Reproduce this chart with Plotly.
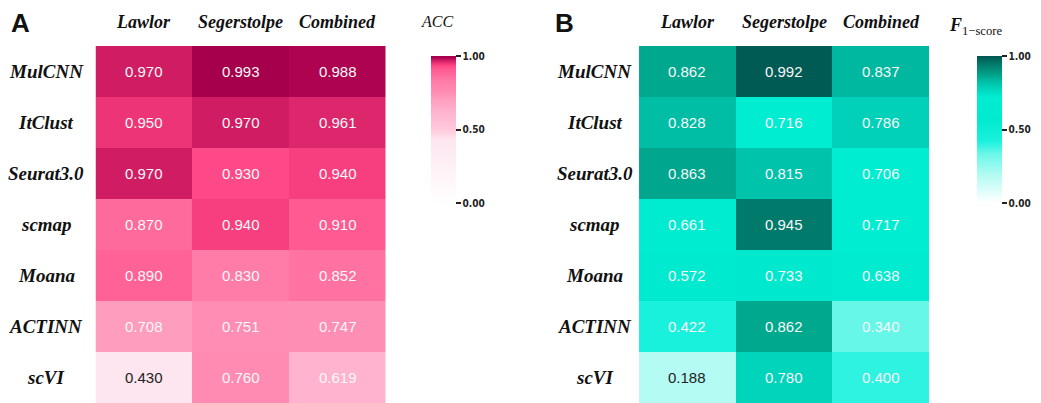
import plotly.graph_objects as go

W, H = 1041, 403

methods = ["MulCNN", "ItClust", "Seurat3.0", "scmap", "Moana", "ACTINN", "scVI"]
datasets = ["Lawlor", "Segerstolpe", "Combined"]

acc = [
    [0.970, 0.993, 0.988],
    [0.950, 0.970, 0.961],
    [0.970, 0.930, 0.940],
    [0.870, 0.940, 0.910],
    [0.890, 0.830, 0.852],
    [0.708, 0.751, 0.747],
    [0.430, 0.760, 0.619],
]

f1 = [
    [0.862, 0.992, 0.837],
    [0.828, 0.716, 0.786],
    [0.863, 0.815, 0.706],
    [0.661, 0.945, 0.717],
    [0.572, 0.733, 0.638],
    [0.422, 0.862, 0.340],
    [0.188, 0.780, 0.400],
]

colorbar_ticks = [0.0, 0.5, 1.0]

pink_scale = [
    [0.00, "#ffffff"],
    [0.43, "#fde6ef"],
    [0.50, "#ffc8db"],
    [0.62, "#ffb3ce"],
    [0.71, "#ff9dbf"],
    [0.75, "#ff8db4"],
    [0.83, "#ff7ba8"],
    [0.87, "#ff6a9c"],
    [0.91, "#ff5a91"],
    [0.935, "#fd4584"],
    [0.95, "#ec3476"],
    [0.97, "#d01c63"],
    [0.99, "#a9004e"],
    [1.00, "#a0004a"],
]

teal_scale = [
    [0.00, "#ffffff"],
    [0.19, "#b3fbf3"],
    [0.34, "#66f7e8"],
    [0.42, "#1af1dd"],
    [0.57, "#00eacf"],
    [0.72, "#00edd2"],
    [0.78, "#00d4bb"],
    [0.83, "#00bca4"],
    [0.86, "#00a98f"],
    [0.945, "#007a6a"],
    [1.00, "#005650"],
]

# dark cell text only below these values (per panel)
dark_text_below = {"acc": 0.5, "f1": 0.3}

# layout in pixels
top = 46
xA0, xA1 = 97, 392
xB0, xB1 = 649, 944
ytop = 1 - top / H


def px(x):
    return x / W


def py(y):
    return 1 - y / H


fig = go.Figure()

def add_panel(z, scale, xaxis, yaxis, cbx):
    fig.add_trace(go.Heatmap(
        z=z, x=datasets, y=methods,
        colorscale=scale, zmin=0, zmax=1,
        xaxis=xaxis, yaxis=yaxis,
        hoverinfo="skip",
        colorbar=dict(
            x=px(cbx), xanchor="left", y=ytop, yanchor="top",
            len=167, lenmode="pixels", thickness=25, thicknessmode="pixels",
            outlinewidth=0,
            tickvals=colorbar_ticks,
            ticktext=["<b>%.2f</b>" % t for t in colorbar_ticks],
            ticks="outside", ticklen=5, tickwidth=2, tickcolor="#222",
            tickfont=dict(family="DejaVu Sans Condensed, DejaVu Sans", size=10, color="#222"),
        ),
    ))

add_panel(acc, pink_scale, "x", "y", 428)
add_panel(f1, teal_scale, "x2", "y2", 982)

ax_common = dict(showticklabels=False, showgrid=False, zeroline=False, ticks="", showline=False)
fig.update_layout(
    width=W, height=H,
    margin=dict(l=0, r=0, t=0, b=0),
    paper_bgcolor="white", plot_bgcolor="white",
    xaxis=dict(domain=[px(xA0), px(xA1)], anchor="y", **ax_common),
    yaxis=dict(domain=[0, ytop], anchor="x", autorange="reversed", **ax_common),
    xaxis2=dict(domain=[px(xB0), px(xB1)], anchor="y2", **ax_common),
    yaxis2=dict(domain=[0, ytop], anchor="x2", autorange="reversed", **ax_common),
)

annotations = []
serif = "Liberation Serif, Times New Roman, serif"
sans = "Liberation Sans, Arial, sans-serif"

for key, z, xr, yr, lab_x in [("acc", acc, "x", "y", 47), ("f1", f1, "x2", "y2", 604)]:
    for i, m in enumerate(methods):
        for j, d in enumerate(datasets):
            v = z[i][j]
            annotations.append(dict(
                x=d, y=m, xref=xr, yref=yr, text="%.3f" % v, showarrow=False,
                font=dict(family=sans, size=15,
                          color="#222222" if v < dark_text_below[key] else "#f8f8f8"),
            ))
        annotations.append(dict(
            x=px(lab_x), y=m, xref="paper", yref=yr, text="<b><i>%s</i></b>" % m,
            showarrow=False, xanchor="center",
            font=dict(family=serif, size=19, color="#111"),
        ))
    for d in datasets:
        annotations.append(dict(
            x=d, y=py(22), xref=xr, yref="paper", text="<b><i>%s</i></b>" % d,
            showarrow=False, yanchor="middle",
            font=dict(family=serif, size=18, color="#111"),
        ))

annotations.append(dict(x=px(9), y=py(23), xref="paper", yref="paper", text="<b>A</b>",
                        showarrow=False, xanchor="left", yanchor="middle",
                        font=dict(family=sans, size=26, color="#111")))
annotations.append(dict(x=px(562), y=py(23), xref="paper", yref="paper", text="<b>B</b>",
                        showarrow=False, xanchor="left", yanchor="middle",
                        font=dict(family=sans, size=26, color="#111")))
annotations.append(dict(x=px(426), y=py(22), xref="paper", yref="paper", text="<i>ACC</i>",
                        showarrow=False, xanchor="left", yanchor="middle",
                        font=dict(family=serif, size=16, color="#111")))
annotations.append(dict(x=px(962), y=py(27), xref="paper", yref="paper",
                        text="<b><i>F</i></b><sub>1−score</sub>",
                        showarrow=False, xanchor="left", yanchor="middle",
                        font=dict(family=serif, size=18, color="#111")))

fig.update_layout(annotations=annotations)

fig.write_html("out.html", config={"displayModeBar": False},
               post_script="document.body.style.margin='0';")
